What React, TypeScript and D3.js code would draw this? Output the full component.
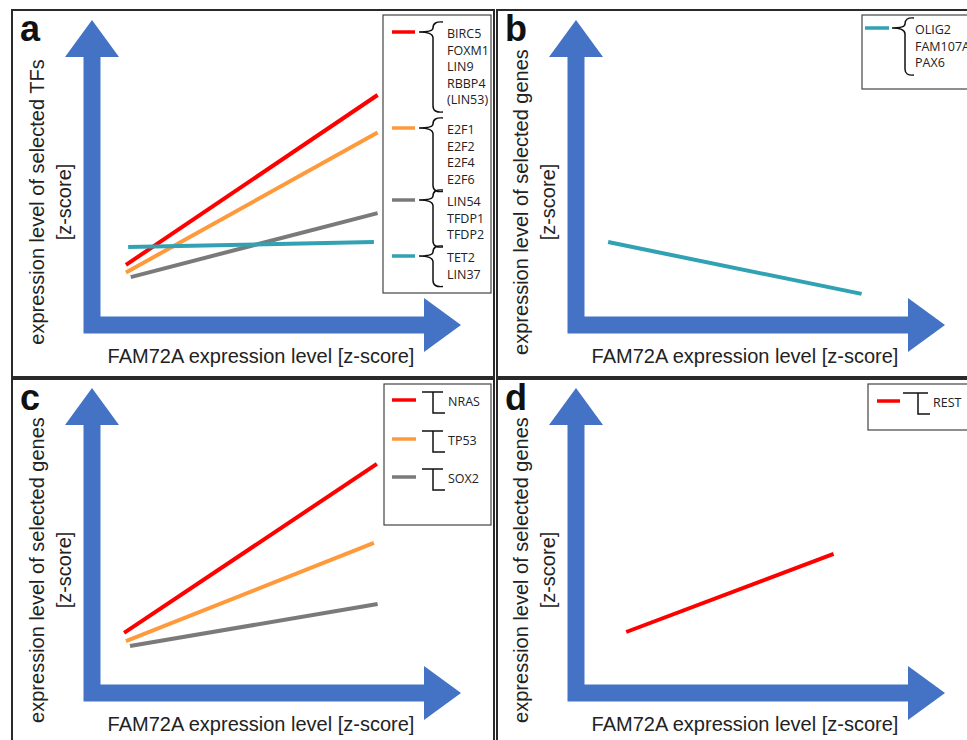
import React from 'react';
import * as d3 from 'd3';

// line end points, [FAM72A z, gene z] on a 0..10 axis span
const panelIds = ['a', 'b', 'c', 'd'];
const yTitles = [
  'expression level of selected TFs',
  'expression level of selected genes',
  'expression level of selected genes',
  'expression level of selected genes',
];
const xTitle = 'FAM72A expression level [z-score]';

const seriesA = [
  { name: 'BIRC5 group', color: '#ff0000', pts: [[0.92, 1.97], [7.74, 7.54]] },
  { name: 'E2F group', color: '#ff9a3c', pts: [[0.92, 1.72], [7.74, 6.31]] },
  { name: 'LIN54 group', color: '#7a7a7a', pts: [[1.05, 1.57], [7.74, 3.67]] },
  { name: 'TET2 group', color: '#31a2b3', pts: [[0.98, 2.56], [7.64, 2.72]] },
];
const seriesB = [
  { name: 'OLIG2 group', color: '#31a2b3', pts: [[0.87, 2.72], [7.74, 1.02]] },
];
const seriesC = [
  { name: 'NRAS', color: '#ff0000', pts: [[0.87, 1.97], [7.72, 7.51]] },
  { name: 'TP53', color: '#ff9a3c', pts: [[0.92, 1.70], [7.64, 4.92]] },
  { name: 'SOX2', color: '#7a7a7a', pts: [[1.03, 1.54], [7.74, 2.92]] },
];
const seriesD = [
  { name: 'REST', color: '#ff0000', pts: [[1.36, 2.0], [6.98, 4.56]] },
];

const genesA = [
  ['BIRC5', 'FOXM1', 'LIN9', 'RBBP4', '(LIN53)'],
  ['E2F1', 'E2F2', 'E2F4', 'E2F6'],
  ['LIN54', 'TFDP1', 'TFDP2'],
  ['TET2', 'LIN37'],
];
const genesB = [['OLIG2', 'FAM107A', 'PAX6']];
const genesC = [['NRAS'], ['TP53'], ['SOX2']];
const genesD = [['REST']];

const BLUE = '#4472c4';
const FONT = 'Liberation Sans, Arial, sans-serif';
const LFONT = 'Open Sans, sans-serif';

// layout of each panel (frame, axis origin, legend box)
const panels = [
  { id: 0, frame: [12, 10, 482, 367], origin: [92, 325], series: seriesA, genes: genesA,
    legend: { box: [383, 15, 108, 278], style: 'curly', lineX: [392, 415], tipX: 419, barX: 433, endX: 443, textX: 447, ys: [32, 128, 200, 256] } },
  { id: 1, frame: [497, 10, 520, 367], origin: [576, 325], series: seriesB, genes: genesB,
    legend: { box: [862, 15, 140, 74], style: 'curly', lineX: [865, 889], tipX: 892, barX: 905, endX: 914, textX: 915, ys: [28] } },
  { id: 2, frame: [12, 379, 482, 400], origin: [92, 693], series: seriesC, genes: genesC,
    legend: { box: [384, 384, 107, 141], style: 'square', lineX: [392, 416], tipX: 422, barX: 433, endX: 445, textX: 448, ys: [400, 439, 477] } },
  { id: 3, frame: [497, 379, 520, 400], origin: [576, 693], series: seriesD, genes: genesD,
    legend: { box: [868, 384, 140, 46], style: 'square', lineX: [877, 900], tipX: 903, barX: 918, endX: 930, textX: 933, ys: [401] } },
];

function Arrows({ x, y }: any) {
  const ox = x(0), oy = y(0), tx = x(10), ty = y(10);
  const sw = 8.5, hw = 27, hl = 37;
  const pts = [[ox - sw, oy + sw], [ox - sw, ty + hl], [ox - hw, ty + hl], [ox, ty], [ox + hw, ty + hl], [ox + sw, ty + hl], [ox + sw, oy - sw],
    [tx - hl, oy - sw], [tx - hl, oy - hw], [tx, oy], [tx - hl, oy + hw], [tx - hl, oy + sw]];
  return <polygon points={pts.map((p) => p.join(',')).join(' ')} fill={BLUE} />;
}

function Legend({ lg, genes, series }: any) {
  const [bx, by, bw, bh] = lg.box;
  const rowH = 16.5;
  return (
    <g>
      <rect x={bx} y={by} width={bw} height={bh} fill="white" stroke="#444" strokeWidth={1.2} />
      {genes.map((list: string[], i: number) => {
        const ly = lg.ys[i];
        let bracket;
        if (lg.style === 'curly') {
          const top = ly - 10;
          const bot = ly + 2 + (list.length - 1) * rowH + 12;
          bracket = `M${lg.endX},${top} Q${lg.barX},${top - 1} ${lg.barX},${top + 6} Q${lg.barX},${ly} ${lg.tipX},${ly} Q${lg.barX},${ly} ${lg.barX},${ly + 6} L${lg.barX},${bot - 6} Q${lg.barX},${bot + 1} ${lg.endX},${bot}`;
        } else {
          const top = ly - 8;
          const bot = ly + 13;
          bracket = `M${lg.tipX},${top} L${lg.barX + 10},${top} M${lg.barX},${top} L${lg.barX},${bot} L${lg.endX},${bot}`;
        }
        return (
          <g key={i}>
            <line x1={lg.lineX[0]} x2={lg.lineX[1]} y1={ly} y2={ly} stroke={series[i].color} strokeWidth={3.5} />
            <path d={bracket} fill="none" stroke="#111" strokeWidth={1.5} />
            {list.map((g, j) => (
              <text key={g} x={lg.textX} y={ly + 2 + j * rowH} dy="0.35em" fontFamily={LFONT} fontSize={12.5} fill="#222">{g}</text>
            ))}
          </g>
        );
      })}
    </g>
  );
}

function Panel({ p }: any) {
  const [ox, oy] = p.origin;
  const x = d3.scaleLinear().domain([0, 10]).range([ox, ox + 369]);
  const y = d3.scaleLinear().domain([0, 10]).range([oy, oy - 305]);
  const line = d3.line<number[]>().x((d) => x(d[0])).y((d) => y(d[1]));
  const [fx, fy, fw, fh] = p.frame;
  const cy = oy - 123;
  return (
    <g>
      <rect x={fx} y={fy} width={fw} height={fh} fill="white" stroke="#2a2a2a" strokeWidth={2} />
      <text x={fx + 8} y={fy + 31} fontFamily={FONT} fontWeight="bold" fontSize={36} fill="#111">{panelIds[p.id]}</text>
      <text transform={`translate(${ox - 55},${cy}) rotate(-90)`} textAnchor="middle" dy="0.35em" fontFamily={FONT} fontSize={20} fill="#222">{yTitles[p.id]}</text>
      <text transform={`translate(${ox - 28},${cy}) rotate(-90)`} textAnchor="middle" dy="0.35em" fontFamily={FONT} fontSize={20} fill="#222">[z-score]</text>
      <Arrows x={x} y={y} />
      <text x={ox + 169} y={oy + 38} textAnchor="middle" fontFamily={FONT} fontSize={20} fill="#222">{xTitle}</text>
      {p.series.map((s: any) => (
        <path key={s.name} d={line(s.pts) as string} stroke={s.color} strokeWidth={4} fill="none" />
      ))}
      <Legend lg={p.legend} genes={p.genes} series={p.series} />
    </g>
  );
}

export default function App() {
  return (
    <svg width={967} height={740} style={{ position: 'absolute', left: 0, top: 0, background: 'white' }}>
      {panels.map((p) => <Panel key={p.id} p={p} />)}
    </svg>
  );
}
